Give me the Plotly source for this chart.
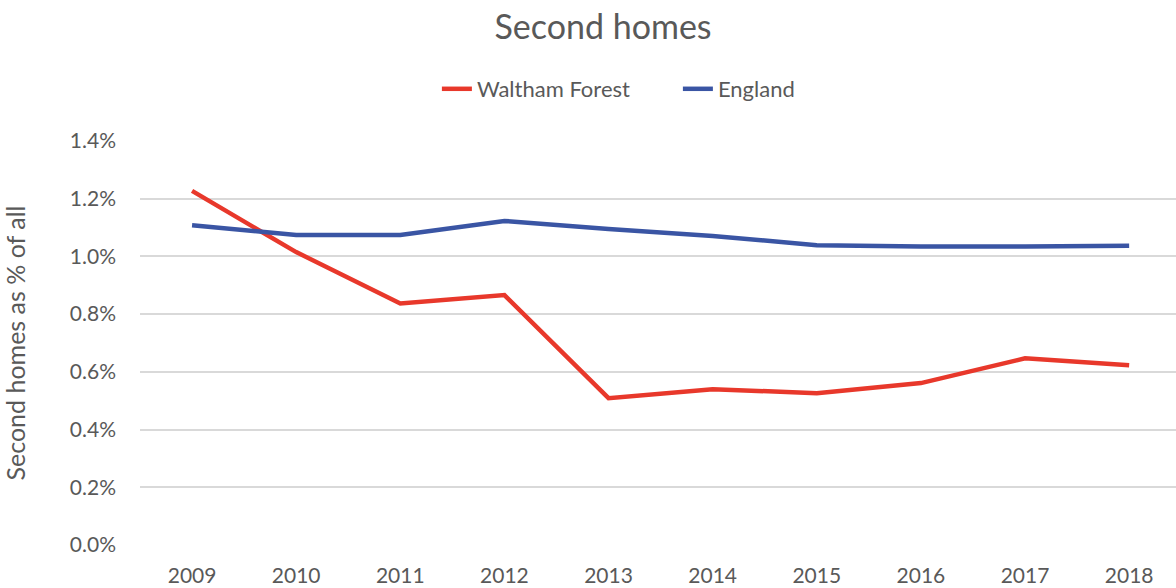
import plotly.graph_objects as go

years = ["2009", "2010", "2011", "2012", "2013", "2014", "2015", "2016", "2017", "2018"]
waltham_forest = [1.227, 1.015, 0.837, 0.866, 0.509, 0.540, 0.526, 0.561, 0.647, 0.623]
england = [1.108, 1.074, 1.074, 1.123, 1.095, 1.071, 1.039, 1.034, 1.034, 1.037]
y_ticks = [0.0, 0.2, 0.4, 0.6, 0.8, 1.0, 1.2, 1.4]
y_tick_labels = ["0.0%", "0.2%", "0.4%", "0.6%", "0.8%", "1.0%", "1.2%", "1.4%"]

FONT = "Lato, Open Sans, sans-serif"
GREY = "#595959"

fig = go.Figure()
fig.add_trace(go.Scatter(x=years, y=waltham_forest, mode="lines", name="Waltham Forest",
                         line=dict(color="#E8382B", width=4.5)))
fig.add_trace(go.Scatter(x=years, y=england, mode="lines", name="England",
                         line=dict(color="#3A55A4", width=4.5)))

fig.update_layout(
    width=1176, height=588,
    paper_bgcolor="white", plot_bgcolor="white",
    margin=dict(l=140, r=0, t=141, b=43, autoexpand=False),
    title=dict(text="Second homes", x=0.5128, xanchor="center", y=1 - 27 / 588, yref="container",
               yanchor="middle", font=dict(family=FONT, size=34, color=GREY)),
    legend=dict(orientation="h", x=0.5192, xanchor="center", y=1 - 89 / 588, yref="container",
                yanchor="middle", font=dict(family=FONT, size=22, color=GREY), traceorder="normal",
                entrywidth=196),
    font=dict(family=FONT, color=GREY),
)
fig.update_xaxes(type="category", range=[-0.5, 9.45], showgrid=False, showline=False,
                 ticks="", tickfont=dict(family=FONT, size=21, color=GREY), zeroline=False,
                 automargin=False, ticklabelstandoff=16)
fig.update_yaxes(range=[0, 1.4], tickvals=y_ticks, ticktext=y_tick_labels,
                 showgrid=True, gridcolor="#D9D9D9", gridwidth=2, zeroline=False,
                 tickfont=dict(family=FONT, size=21, color=GREY), ticklabelstandoff=23,
                 automargin=True,
                 title=dict(text="Second homes as % of all", font=dict(family=FONT, size=25, color=GREY),
                            standoff=37))

fig.write_html("out.html", config={"displayModeBar": False},
               post_script="document.body.style.margin='0';")
